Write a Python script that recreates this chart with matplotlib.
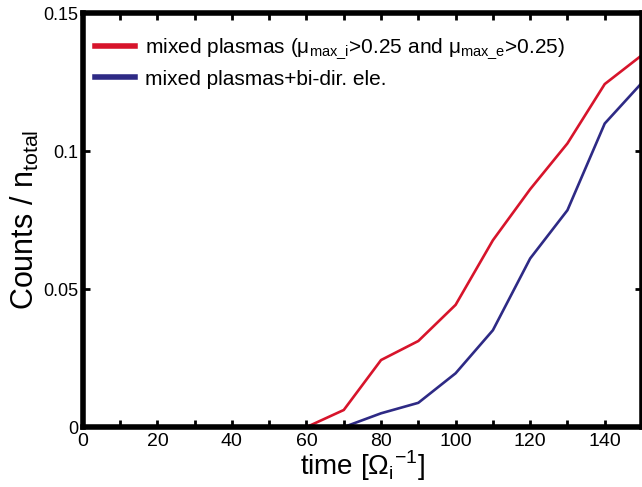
import matplotlib.pyplot as plt
from matplotlib.ticker import MultipleLocator

plt.rcParams['font.family'] = ['Liberation Sans', 'DejaVu Sans']
plt.rcParams['mathtext.fontset'] = 'custom'
plt.rcParams['mathtext.rm'] = 'Liberation Sans'

# data
time_red = [60, 70, 80, 90, 100, 110, 120, 130, 140, 150]
mixed = [0.0, 0.0062, 0.0243, 0.0312, 0.0443, 0.0677, 0.0862, 0.1028, 0.1243, 0.1348]
time_blue = [70, 80, 90, 100, 110, 120, 130, 140, 150]
mixed_bidir = [0.0, 0.0050, 0.0088, 0.0195, 0.0351, 0.0611, 0.0786, 0.1100, 0.1248]
xticks = [0, 20, 40, 60, 80, 100, 120, 140]
yticks = [0, 0.05, 0.1, 0.15]
ytick_labels = ['0', '0.05', '0.1', '0.15']

fig = plt.figure(figsize=(6.42, 4.87), dpi=100)
ax = fig.add_axes([0.129, 0.123, 0.871, 0.850])

ax.plot(time_red, mixed, color='#d7142b', lw=1.9,
        label='mixed plasmas (μ$_{\\mathregular{max\\_i}}$>0.25 and μ$_{\\mathregular{max\\_e}}$>0.25)')
ax.plot(time_blue, mixed_bidir, color='#2e2a85', lw=1.9,
        label='mixed plasmas+bi-dir. ele.')

ax.set_xlim(0, 150)
ax.set_ylim(0, 0.15)
ax.set_xticks(xticks)
ax.xaxis.set_minor_locator(MultipleLocator(10))
ax.set_yticks(yticks)
ax.set_yticklabels(ytick_labels)

for s in ax.spines.values():
    s.set_linewidth(4)
ax.tick_params(axis='both', which='both', direction='in', top=True, right=True,
               width=2, length=5)
ax.tick_params(axis='x', labelsize=14, pad=4)
ax.tick_params(axis='y', labelsize=13, pad=3)

ax.set_xlabel('time [Ω$_{\\mathregular{i}}$$^{\\mathregular{-1}}$]', fontsize=20, labelpad=-1)
ax.set_ylabel('Counts / n$_{\\mathregular{total}}$', fontsize=22, labelpad=2)

leg = ax.legend(loc='upper left', bbox_to_anchor=(0.007, 0.962), borderaxespad=0,
                frameon=False, fontsize=15, handlelength=1.9,
                handletextpad=0.5, labelspacing=0.35)
for line in leg.get_lines():
    line.set_linewidth(4)

fig.savefig('out.png', dpi=100)
